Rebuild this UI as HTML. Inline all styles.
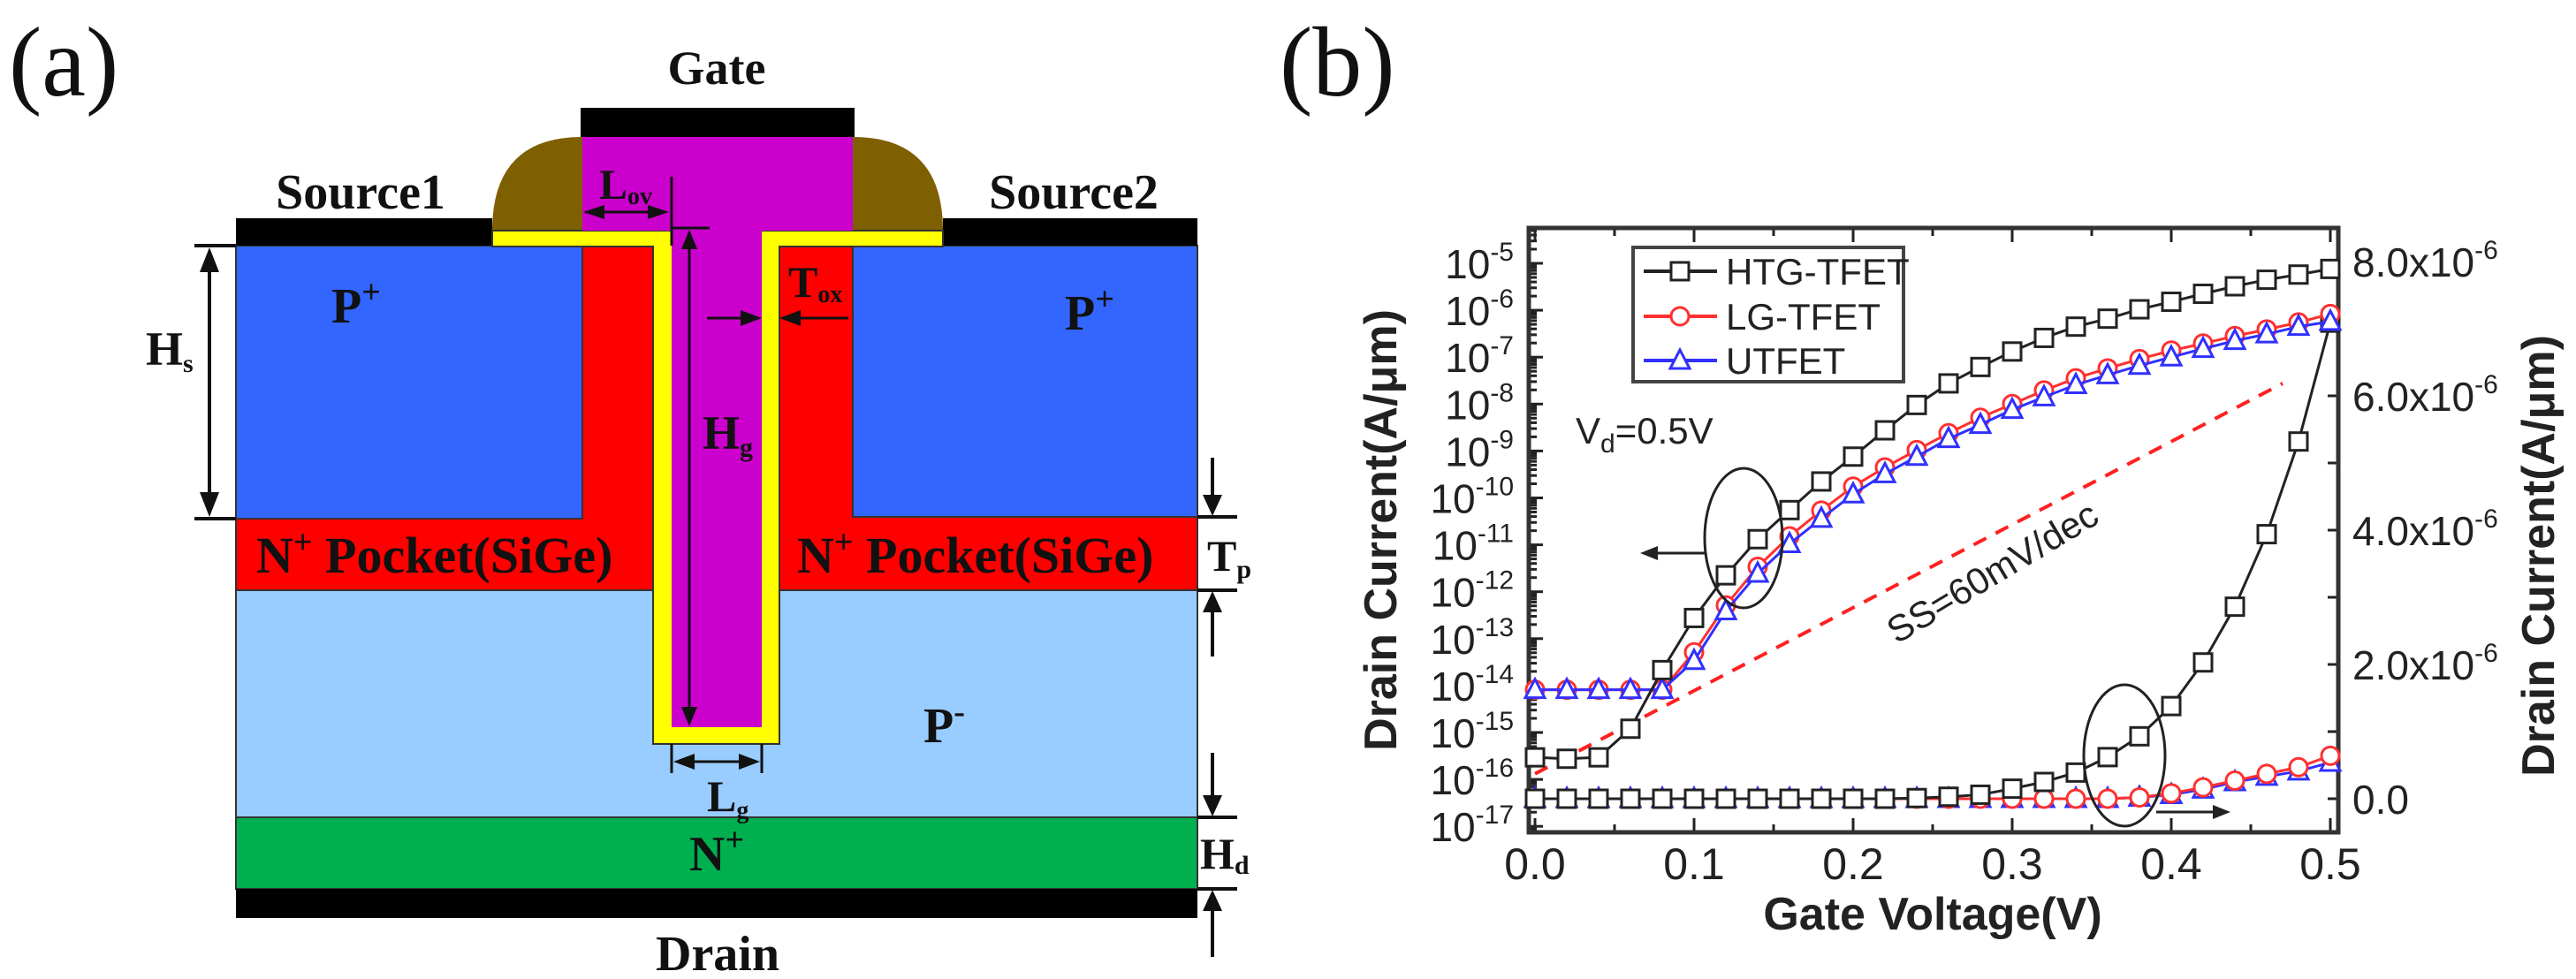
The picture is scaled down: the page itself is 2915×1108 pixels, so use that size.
<!DOCTYPE html>
<html><head><meta charset="utf-8"><style>
html,body{margin:0;padding:0;background:#fff;}
svg{display:block;}
.serif{font-family:"Liberation Serif",serif;font-weight:bold;fill:#111;}
.sans{font-family:"Liberation Sans",sans-serif;fill:#222;}
</style></head><body>
<svg id="fig" width="2915" height="1108" viewBox="0 0 2915 1108" xmlns="http://www.w3.org/2000/svg">
<!-- Panel (a) device cross-section -->
<g>
<text x="10" y="108" font-family="Liberation Serif, serif" font-size="112" fill="#111">(a)</text>
<rect x="267" y="278" width="1088" height="390" fill="#ff0000" stroke="#333" stroke-width="2"/>
<rect x="267" y="278" width="392" height="309" fill="#3366ff" stroke="#333" stroke-width="2"/>
<rect x="965" y="278" width="390" height="307" fill="#3366ff" stroke="#333" stroke-width="2"/>
<rect x="267" y="668" width="1088" height="257" fill="#99ccff" stroke="#333" stroke-width="2"/>
<rect x="267" y="925" width="1088" height="81" fill="#00b050" stroke="#333" stroke-width="2"/>
<rect x="267" y="1006" width="1088" height="33" fill="#000"/>
<rect x="267" y="247" width="290" height="31" fill="#000"/>
<rect x="1067" y="247" width="288" height="31" fill="#000"/>
<rect x="657" y="122" width="310" height="33" fill="#000"/>
<path d="M557,261 Q557,155 659,155 L659,261 Z" fill="#7f6000"/>
<path d="M965,155 Q1067,155 1067,261 L965,261 Z" fill="#7f6000"/>
<polygon points="557,261 1067,261 1067,279 882,279 882,842 739,842 739,279 557,279" fill="#ffff00" stroke="#333" stroke-width="2"/>
<polygon points="659,155 965,155 965,261 862,261 862,823 760,823 760,261 659,261" fill="#cc00cc"/>
<g stroke="#111" stroke-width="4" fill="#111">
<line x1="220" y1="278" x2="267" y2="278"/><line x1="220" y1="587" x2="267" y2="587"/>
<line x1="237" y1="290" x2="237" y2="575"/>
<polygon points="237,280 226,308 248,308" stroke="none"/><polygon points="237,585 226,557 248,557" stroke="none"/>
<line x1="1355" y1="585" x2="1400" y2="585"/><line x1="1355" y1="668" x2="1400" y2="668"/>
<line x1="1372" y1="518" x2="1372" y2="575"/><polygon points="1372,584 1361,560 1383,560" stroke="none"/>
<line x1="1372" y1="680" x2="1372" y2="743"/><polygon points="1372,669 1361,693 1383,693" stroke="none"/>
<line x1="1355" y1="925" x2="1400" y2="925"/><line x1="1355" y1="1006" x2="1400" y2="1006"/>
<line x1="1372" y1="852" x2="1372" y2="915"/><polygon points="1372,924 1361,900 1383,900" stroke="none"/>
<line x1="1372" y1="1018" x2="1372" y2="1083"/><polygon points="1372,1007 1361,1031 1383,1031" stroke="none"/>
<line x1="760" y1="200" x2="760" y2="278" stroke-width="3"/>
<line x1="662" y1="240" x2="745" y2="240" stroke-width="3"/><polygon points="660,240 684,232 684,248" stroke="none"/><polygon points="757,240 733,232 733,248" stroke="none"/>
<line x1="760" y1="258" x2="803" y2="258" stroke-width="3"/>
<line x1="780" y1="270" x2="780" y2="812" stroke-width="3"/><polygon points="780,260 771,282 789,282" stroke="none"/><polygon points="780,822 771,800 789,800" stroke="none"/>
<line x1="800" y1="360" x2="850" y2="360" stroke-width="3"/><polygon points="862,360 838,351 838,369" stroke="none"/>
<line x1="960" y1="360" x2="895" y2="360" stroke-width="3"/><polygon points="882,360 906,351 906,369" stroke="none"/>
<line x1="760" y1="842" x2="760" y2="875" stroke-width="3"/><line x1="862" y1="842" x2="862" y2="875" stroke-width="3"/>
<line x1="772" y1="862" x2="850" y2="862" stroke-width="3"/><polygon points="762,862 786,853 786,871" stroke="none"/><polygon points="860,862 836,853 836,871" stroke="none"/>
</g>
<text class="serif" x="811" y="95" font-size="54" text-anchor="middle">Gate</text>
<text class="serif" x="408" y="236" font-size="56" text-anchor="middle">Source1</text>
<text class="serif" x="1215" y="236" font-size="56" text-anchor="middle">Source2</text>
<text class="serif" x="812" y="1098" font-size="56" text-anchor="middle">Drain</text>
<text class="serif" x="375" y="365" font-size="56">P<tspan dy="-22" font-size="38">+</tspan></text>
<text class="serif" x="1205" y="373" font-size="56">P<tspan dy="-22" font-size="38">+</tspan></text>
<text class="serif" x="290" y="648" font-size="58">N<tspan dy="-22" font-size="38">+</tspan><tspan dy="22"> Pocket(SiGe)</tspan></text>
<text class="serif" x="902" y="648" font-size="58">N<tspan dy="-22" font-size="38">+</tspan><tspan dy="22"> Pocket(SiGe)</tspan></text>
<text class="serif" x="1045" y="840" font-size="56">P<tspan dy="-22" font-size="38">-</tspan></text>
<text class="serif" x="780" y="985" font-size="56">N<tspan dy="-22" font-size="38">+</tspan></text>
<text class="serif" x="165" y="413" font-size="54">H<tspan dy="8" font-size="30">s</tspan></text>
<text class="serif" x="795" y="508" font-size="54">H<tspan dy="8" font-size="30">g</tspan></text>
<text class="serif" x="678" y="225" font-size="48">L<tspan dy="6" font-size="28">ov</tspan></text>
<text class="serif" x="892" y="336" font-size="50">T<tspan dy="6" font-size="28">ox</tspan></text>
<text class="serif" x="800" y="918" font-size="50">L<tspan dy="8" font-size="28">g</tspan></text>
<text class="serif" x="1366" y="646" font-size="50">T<tspan dy="8" font-size="30">p</tspan></text>
<text class="serif" x="1358" y="983" font-size="50">H<tspan dy="6" font-size="30">d</tspan></text>
</g>
<!-- Panel (b) chart -->
<text x="1448" y="108" font-family="Liberation Serif, serif" font-size="112" fill="#111">(b)</text>
<g id="chart"></g>
</svg>
<script>
const vg = [0,0.02,0.04,0.06,0.08,0.10,0.12,0.14,0.16,0.18,0.20,0.22,0.24,0.26,0.28,0.30,0.32,0.34,0.36,0.38,0.40,0.42,0.44,0.46,0.48,0.50];
const htgLog = [-15.53,-15.56,-15.53,-14.92,-13.67,-12.56,-11.65,-10.88,-10.26,-9.65,-9.12,-8.56,-8.02,-7.56,-7.21,-6.88,-6.59,-6.35,-6.18,-5.98,-5.82,-5.65,-5.49,-5.35,-5.24,-5.12];
const lgLog = [-14.09,-14.09,-14.09,-14.09,-14.09,-13.29,-12.29,-11.47,-10.82,-10.27,-9.76,-9.35,-8.98,-8.62,-8.29,-8.0,-7.71,-7.45,-7.24,-7.04,-6.86,-6.71,-6.55,-6.41,-6.26,-6.08];
const utLog = [-14.09,-14.09,-14.09,-14.09,-14.09,-13.47,-12.41,-11.61,-10.98,-10.44,-9.92,-9.49,-9.12,-8.74,-8.44,-8.12,-7.85,-7.59,-7.38,-7.18,-7.0,-6.82,-6.65,-6.51,-6.35,-6.24];
const htgLin = [0,0,0,0,0,0,0,0,0,0,0,0,0.01,0.03,0.06,0.15,0.25,0.39,0.62,0.93,1.38,2.03,2.86,3.94,5.32,7.09];
const lgLin = [0,0,0,0,0,0,0,0,0,0,0,0,0,0,0,0,0,0,0,0.02,0.08,0.17,0.27,0.37,0.47,0.64];
const utLin = [0,0,0,0,0,0,0,0,0,0,0,0,0,0,0,0,0,0,0,0.02,0.06,0.14,0.25,0.33,0.41,0.54];
const ssLine = [[0.0,-15.88],[0.47,-7.56]];
const logTicks = [-5,-6,-7,-8,-9,-10,-11,-12,-13,-14,-15,-16,-17];
const linTicks = [0,2,4,6,8];
const xTicks = [0,0.1,0.2,0.3,0.4,0.5];

const NS='http://www.w3.org/2000/svg';
const g=document.getElementById('chart');
const L=1730,R=2646,T=258,B=942;
const xs=v=>1737+v*1800;
const yLog=v=>298+(-5-v)*53.1;
const yLin=v=>904-v*76;
function mk(tag,attrs,parent){const e=document.createElementNS(NS,tag);for(const k in attrs)e.setAttribute(k,attrs[k]);(parent||g).appendChild(e);return e;}

// ticks
const tk=mk('g',{stroke:'#222','stroke-width':3});


for(let d=-17;d<=-5;d++){
  mk('line',{x1:L,y1:yLog(d),x2:L+16,y2:yLog(d)},tk);
  for(let m=2;m<=9;m++){const y=yLog(d+Math.log10(m));if(y>T)mk('line',{x1:L,y1:y,x2:L+9,y2:y},tk);}
}
for(let m=2;m<=9;m++){const y=yLog(-18+Math.log10(m));if(y<B)mk('line',{x1:L,y1:y,x2:L+9,y2:y},tk);}
for(let i=0;i<=10;i++){const x=xs(i*0.05),len=i%2?9:16;
  mk('line',{x1:x,y1:B,x2:x,y2:B-len},tk);mk('line',{x1:x,y1:T,x2:x,y2:T+len},tk);}
for(let i=0;i<=8;i++){const y=yLin(i);mk('line',{x1:R,y1:y,x2:R-12,y2:y},tk);}

// frame
const fr=mk('rect',{x:L,y:T,width:R-L,height:B-T,fill:'none',stroke:'#333','stroke-width':5});



// tick labels
logTicks.forEach(d=>{
  const t=mk('text',{x:1713,y:yLog(d)+17,'text-anchor':'end','font-size':46,class:'sans'});
  
  
  const a=mk('tspan',{},t);a.textContent='10';
  const b=mk('tspan',{dy:-20,'font-size':30},t);b.textContent=String(d);
});
linTicks.forEach(v=>{
  const t=mk('text',{x:2662,y:yLin(v)+17,'font-size':46,class:'sans'});
  
  
  const a=mk('tspan',{},t);a.textContent=v===0?'0.0':v.toFixed(1)+'x10';
  if(v!==0){const b=mk('tspan',{dy:-20,'font-size':30},t);b.textContent='-6';}
});
xTicks.forEach(v=>{
  const t=mk('text',{x:xs(v),y:995,'text-anchor':'middle','font-size':50,class:'sans'});
  
  
  t.textContent=v.toFixed(1);
});
let t=mk('text',{x:2187,y:1052,'text-anchor':'middle','font-size':52,'font-weight':'bold',class:'sans',fill:'#111'});


t.textContent='Gate Voltage(V)';
t=mk('text',{x:0,y:0,'text-anchor':'middle','font-size':52,'font-weight':'bold',class:'sans',transform:'translate(1580,600) rotate(-90)'});


t.textContent='Drain Current(A/μm)';
t=mk('text',{x:0,y:0,'text-anchor':'middle','font-size':52,'font-weight':'bold',class:'sans',transform:'translate(2890,629) rotate(-90)'});


t.textContent='Drain Current(A/μm)';

// ss line
const ss=mk('line',{x1:xs(ssLine[0][0]),y1:yLog(ssLine[0][1]),x2:xs(ssLine[1][0]),y2:yLog(ssLine[1][1]),stroke:'#ff2020','stroke-width':4,'stroke-dasharray':'16,12'});


t=mk('text',{x:0,y:0,'text-anchor':'middle','font-size':42,class:'sans',transform:'translate(2262,660) rotate(-31)'});


t.textContent='SS=60mV/dec';

function marker(type,x,y,col,parent){
  if(type==='sq')return mk('rect',{x:x-10,y:y-10,width:20,height:20,fill:'#fff',stroke:col,'stroke-width':3},parent);
  if(type==='ci')return mk('circle',{cx:x,cy:y,r:10,fill:'#fff',stroke:col,'stroke-width':3},parent);
  return mk('polygon',{points:`${x},${y-12} ${x-11},${y+9} ${x+11},${y+9}`,fill:'#fff',stroke:col,'stroke-width':3},parent);
}
function series(name,vals,yf,col,type){
  const sg=mk('g',{});
  
  
  const pts=vals.map((v,i)=>xs(vg[i])+','+yf(v)).join(' ');
  mk('polyline',{points:pts,fill:'none',stroke:col,'stroke-width':3},sg);
  vals.forEach((v,i)=>{const m=marker(type,xs(vg[i]),yf(v),col,sg);
    
    });
}
series('utfet-linear',utLin,yLin,'#3030ff','tr');
series('lg-tfet-linear',lgLin,yLin,'#ff3030','ci');
series('htg-tfet-linear',htgLin,yLin,'#222','sq');
series('lg-tfet-log',lgLog,yLog,'#ff3030','ci');
series('utfet-log',utLog,yLog,'#3030ff','tr');
series('htg-tfet-log',htgLog,yLog,'#222','sq');

// ellipses and arrows
const an=mk('g',{fill:'none',stroke:'#222','stroke-width':3});


mk('ellipse',{cx:1973,cy:609,rx:44,ry:79},an);
mk('line',{x1:1929,y1:626,x2:1870,y2:626},an);
mk('polygon',{points:'1856,626 1876,618 1876,634',fill:'#222',stroke:'none'},an);
mk('ellipse',{cx:2404,cy:855,rx:46,ry:80},an);
mk('line',{x1:2440,y1:919,x2:2510,y2:919},an);
mk('polygon',{points:'2524,919 2504,911 2504,927',fill:'#222',stroke:'none'},an);

// Vd label
t=mk('text',{x:1783,y:502,'font-size':42,class:'sans'});


let s=mk('tspan',{},t);s.textContent='V';
s=mk('tspan',{dy:10,'font-size':30},t);s.textContent='d';
s=mk('tspan',{dy:-10},t);s.textContent='=0.5V';

// legend
const lg=mk('g',{});


mk('rect',{x:1848,y:280,width:306,height:152,fill:'#fff',stroke:'#444','stroke-width':4},lg);
[['HTG-TFET','#222','sq',307],['LG-TFET','#ff3030','ci',358],['UTFET','#3030ff','tr',408]].forEach(e=>{
  const eg=mk('g',{},lg);
  
  
  mk('line',{x1:1860,y1:e[3],x2:1943,y2:e[3],stroke:e[1],'stroke-width':4},eg);
  marker(e[2],1901,e[3],e[1],eg);
  const tx=mk('text',{x:1953,y:e[3]+15,'font-size':42,class:'sans'},eg);
  tx.textContent=e[0];
});
</script>
</body></html>
